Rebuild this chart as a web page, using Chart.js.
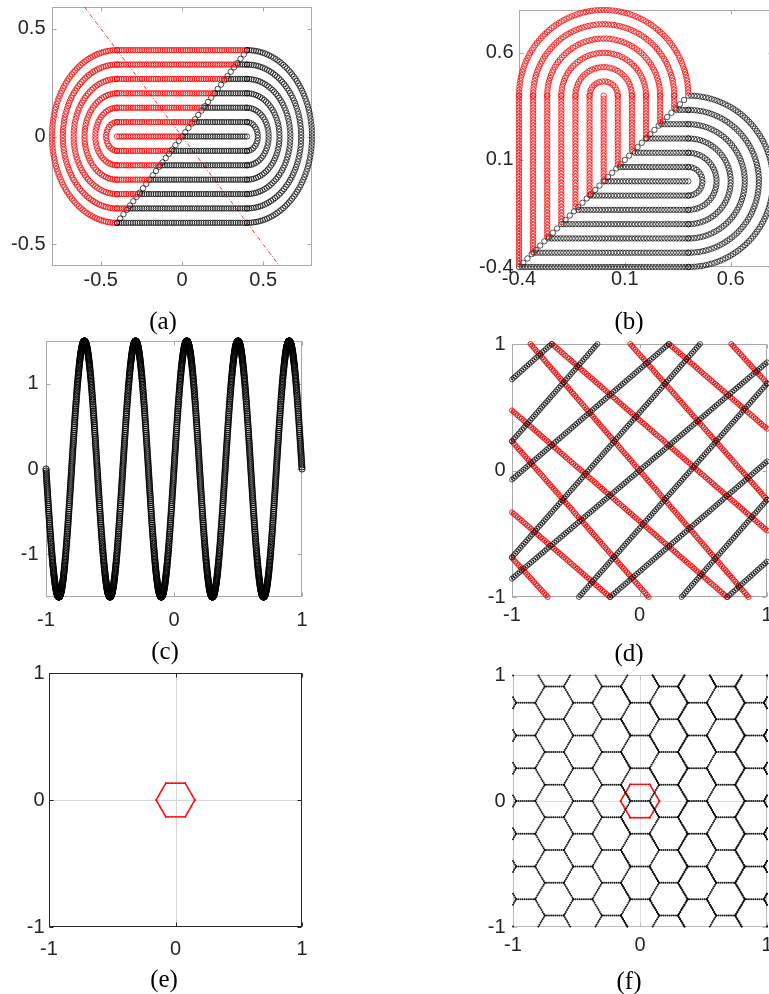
<!DOCTYPE html>
<html>
<head>
<meta charset="utf-8">
<script src="https://cdn.jsdelivr.net/npm/chart.js@4.4.1/dist/chart.umd.min.js"></script>
<style>
  body { margin: 0; background: #fff; width: 769px; height: 994px; overflow: hidden; position: relative; }
  canvas { position: absolute; }
  .cap { position: absolute; font-family: 'Liberation Serif', serif; font-size: 25px; line-height: 1; color: #000; transform: translate(-50%, -50%); white-space: nowrap; }
</style>
</head>
<body>
<script>
// (a), (b): nested stadium loops
const loopRadii = [0, 1/15, 2/15, 3/15, 4/15, 5/15, 6/15];
const loopHalfLength = 0.4;
const loopStep = 0.014;
const diagonalCount = 41;
const cutLineX = [-0.6, 0.6];

// (c): sine band
const waveAmplitude = 1.5;
const waveCycles = 5;
const waveStep = 0.001;

// (d): straight runs, [x, y] at each end
const redStart = [[0.72, 1], [0.232, 1], [-0.072, 1], [-0.686, 1], [-0.855, 1], [-1, 0.475], [-1, 0.23], [-1, -0.33], [-1, -0.69]];
const redEnd = [[1, 0.69], [1, 0.33], [1, -0.23], [1, -0.475], [0.855, -1], [0.686, -1], [0.072, -1], [-0.232, -1], [-0.72, -1]];
const blackStart = [[-1, 0.72], [-1, 0.232], [-1, -0.072], [-1, -0.686], [-1, -0.855], [-0.475, -1], [-0.23, -1], [0.33, -1], [0.69, -1]];
const blackEnd = [[-0.69, 1], [-0.33, 1], [0.23, 1], [0.475, 1], [1, 0.855], [1, 0.686], [1, 0.072], [1, -0.232], [1, -0.72]];
const runStep = 0.02;

// (e), (f): hexagons
const cellRadius = 0.15;
const centerHexRadius = 0.153;
const cellStep = 0.016;
const centerHexStep = 0.011;

// tick values
const ticksA = [-0.5, 0, 0.5];
const ticksB = [-0.4, 0.1, 0.6];
const ticksUnit = [-1, 0, 1];

const RED = 'rgb(255,0,0)';
const BLACK = 'rgba(0,0,0,0.85)';

function seg(out, x0, y0, x1, y1, step) {
  const n = Math.max(1, Math.round(Math.hypot(x1 - x0, y1 - y0) / step));
  for (let i = 0; i <= n; i++) out.push({ x: x0 + (x1 - x0) * i / n, y: y0 + (y1 - y0) * i / n });
}
function arc(out, cx, cy, r, a0, a1, step) {
  const n = Math.max(1, Math.round(r * Math.abs(a1 - a0) / step));
  for (let i = 0; i <= n; i++) {
    const t = a0 + (a1 - a0) * i / n;
    out.push({ x: cx + r * Math.cos(t), y: cy + r * Math.sin(t) });
  }
}

// loops along x (arcs at x = +-L) or along y (arcs at y = +-L)
function loops(vertical) {
  const L = loopHalfLength, out = [];
  for (const r of loopRadii) {
    const pts = [];
    if (r === 0) {
      seg(pts, -L, 0, L, 0, loopStep);
    } else {
      seg(pts, -L, r, L, r, loopStep);
      seg(pts, -L, -r, L, -r, loopStep);
      arc(pts, L, 0, r, -Math.PI / 2, Math.PI / 2, loopStep);
      arc(pts, -L, 0, r, Math.PI / 2, 3 * Math.PI / 2, loopStep);
    }
    for (const p of pts) out.push(vertical ? { x: p.y, y: p.x } : p);
  }
  return out;
}
function diagonal() {
  const out = [], L = loopHalfLength;
  for (let i = 0; i < diagonalCount; i++) {
    const v = -L + 2 * L * i / (diagonalCount - 1);
    out.push({ x: v, y: v });
  }
  return out;
}

const ring = (data, color, r, bw) => ({
  data, pointRadius: r, pointBorderWidth: bw, pointBorderColor: color,
  pointBackgroundColor: 'rgba(0,0,0,0)', pointStyle: 'circle', showLine: false, clip: false
});
const dots = (data, color, r) => ({
  data, pointRadius: r, pointBorderWidth: 0, pointBorderColor: color,
  pointBackgroundColor: color, pointStyle: 'circle', showLine: false, clip: false
});

// box, inward tick marks and optional zero lines
const framePlugin = {
  id: 'frame',
  beforeDatasetsDraw(chart, _args, o) {
    const { ctx, chartArea: a } = chart;
    const xs = chart.scales.x, ys = chart.scales.y;
    const l = Math.round(a.left) + 0.5, r = Math.round(a.right) - 0.5;
    const t = Math.round(a.top) + 0.5, b = Math.round(a.bottom) - 0.5;
    ctx.save();
    ctx.lineWidth = 1;
    if (o.zeroLines) {
      ctx.strokeStyle = o.zeroColor;
      const gx = Math.round(xs.getPixelForValue(0)) + 0.5;
      const gy = Math.round(ys.getPixelForValue(0)) + 0.5;
      ctx.beginPath();
      ctx.moveTo(gx, t); ctx.lineTo(gx, b);
      ctx.moveTo(l, gy); ctx.lineTo(r, gy);
      ctx.stroke();
    }
    ctx.strokeStyle = o.color;
    ctx.strokeRect(l, t, r - l, b - t);
    ctx.beginPath();
    xs.ticks.forEach(tk => {
      const px = Math.round(xs.getPixelForValue(tk.value)) + 0.5;
      ctx.moveTo(px, b); ctx.lineTo(px, b - 4);
      ctx.moveTo(px, t); ctx.lineTo(px, t + 4);
    });
    ys.ticks.forEach(tk => {
      const py = Math.round(ys.getPixelForValue(tk.value)) + 0.5;
      ctx.moveTo(l, py); ctx.lineTo(l + 4, py);
      ctx.moveTo(r, py); ctx.lineTo(r - 4, py);
    });
    ctx.stroke();
    ctx.restore();
  }
};

const AXIS_W = 50, AXIS_H = 40, PAD = 8;
const tickFont = { family: "'Liberation Sans', Arial, sans-serif", size: 20 };

function axis(range, ticks, pad, isX) {
  return {
    type: 'linear', min: range[0], max: range[1],
    afterBuildTicks: s => { s.ticks = ticks.map(v => ({ value: v })); },
    ticks: { padding: pad, color: '#262626', font: tickFont, maxRotation: 0, autoSkip: false, callback: v => String(v) },
    grid: { display: false, drawTicks: false },
    border: { display: false },
    afterFit: s => {
      if (isX) s.height = AXIS_H; else s.width = AXIS_W;
      s.paddingLeft = s.paddingRight = s.paddingTop = s.paddingBottom = 0;
    }
  };
}

function panel(rect, xr, yr, xt, yt, gaps, datasets, frame) {
  const [L, T, W, H] = rect;
  const c = document.createElement('canvas');
  c.width = AXIS_W + W + PAD;
  c.height = PAD + H + AXIS_H;
  c.style.left = (L - AXIS_W) + 'px';
  c.style.top = (T - PAD) + 'px';
  document.body.appendChild(c);
  new Chart(c, {
    type: 'scatter',
    data: { datasets },
    options: {
      responsive: false, animation: false, devicePixelRatio: 1, events: [],
      layout: { padding: { top: PAD, right: PAD, left: 0, bottom: 0 } },
      plugins: { legend: { display: false }, tooltip: { enabled: false }, frame },
      scales: { x: axis(xr, xt, gaps[0], true), y: axis(yr, yt, gaps[1], false) }
    },
    plugins: [framePlugin]
  });
}

function caption(text, x, y) {
  const d = document.createElement('div');
  d.className = 'cap';
  d.textContent = text;
  d.style.left = x + 'px';
  d.style.top = y + 'px';
  document.body.appendChild(d);
}

const boxGray = { color: '#a8a8a8' };

// (a)
{
  const pts = loops(false);
  const red = pts.filter(p => p.y > p.x + 1e-9), black = pts.filter(p => p.y <= p.x + 1e-9);
  const cut = {
    type: 'line', data: cutLineX.map(x => ({ x, y: -x })), borderColor: RED, borderWidth: 0.8,
    borderDash: [4, 2, 1, 2], pointRadius: 0, showLine: true, clip: false
  };
  panel([52, 7, 260, 259], [-0.8, 0.8], [-0.6, 0.6], ticksA, ticksA, [2.2, 6.5],
    [ring(red, RED, 2.7, 0.8), ring(black, BLACK, 2.7, 0.8), ring(diagonal(), BLACK, 2.7, 0.8), cut], boxGray);
}

// (b)
{
  const red = loops(true).filter(p => p.y > p.x + 1e-9);
  const black = loops(false).filter(p => p.y < p.x - 1e-9);
  panel([519, 10, 254, 257], [-0.4, 0.8], [-0.4, 0.8], ticksB, ticksB, [0.2, 5.5],
    [ring(red, RED, 2.7, 0.8), ring(black, BLACK, 2.7, 0.8), ring(diagonal(), BLACK, 2.7, 0.8)], boxGray);
}

// (c)
{
  const wave = [];
  const n = Math.round(2 / waveStep);
  for (let i = 0; i <= n; i++) {
    const x = -1 + i * waveStep;
    wave.push({ x, y: waveAmplitude * Math.sin(waveCycles * Math.PI * x) });
  }
  panel([46, 341, 256, 256], [-1, 1], [-1.5, 1.5], ticksUnit, ticksUnit, [11.2, 7.5],
    [ring(wave, 'rgba(0,0,0,0.9)', 3.1, 1)], boxGray);
}

// (d)
{
  const runs = (starts, ends) => {
    const out = [];
    starts.forEach((s, i) => seg(out, s[0], s[1], ends[i][0], ends[i][1], runStep));
    return out;
  };
  const red = runs(redStart, redEnd), black = runs(blackStart, blackEnd);
  panel([512, 344, 255, 253], [-1, 1], [-1, 1], ticksUnit, ticksUnit, [6.2, 6.5],
    [ring(black, 'rgba(0,0,0,0.75)', 2.5, 0.9), ring(red, RED, 2.5, 0.9),
     dots(black.concat(red), 'rgba(0,0,0,0.85)', 0.8)], boxGray);
}

function hexagon(R, step) {
  const out = [];
  for (let k = 0; k < 6; k++) {
    const a = k * Math.PI / 3, b = (k + 1) * Math.PI / 3;
    seg(out, R * Math.cos(a), R * Math.sin(a), R * Math.cos(b), R * Math.sin(b), step);
  }
  return out;
}
function honeycomb(R, step) {
  const h = R * Math.sqrt(3), seen = new Set(), out = [];
  for (let i = -6; i <= 6; i++) {
    for (let j = -6; j <= 6; j++) {
      const cx = 1.5 * R * i, cy = h * j + (i % 2 === 0 ? h / 2 : 0);
      for (let k = 0; k < 6; k++) {
        const a = k * Math.PI / 3, b = (k + 1) * Math.PI / 3;
        const x0 = cx + R * Math.cos(a), y0 = cy + R * Math.sin(a);
        const x1 = cx + R * Math.cos(b), y1 = cy + R * Math.sin(b);
        const key = Math.round((x0 + x1) * 500) + ',' + Math.round((y0 + y1) * 500);
        if (seen.has(key)) continue;
        seen.add(key);
        const tmp = [];
        seg(tmp, x0, y0, x1, y1, step);
        for (const p of tmp) if (Math.abs(p.x) <= 1.004 && Math.abs(p.y) <= 1.004) out.push(p);
      }
    }
  }
  return out;
}

// (e)
panel([49, 673, 253, 254], [-1, 1], [-1, 1], ticksUnit, ticksUnit, [10.2, 4.5],
  [dots(hexagon(centerHexRadius, centerHexStep), RED, 0.9)],
  { color: '#262626', zeroLines: true, zeroColor: '#d8d8d8' });

// (f)
panel([513, 675, 254, 252], [-1, 1], [-1, 1], ticksUnit, ticksUnit, [6.2, 7.5],
  [dots(honeycomb(cellRadius, cellStep), 'rgba(0,0,0,0.9)', 1), dots(hexagon(centerHexRadius, centerHexStep), RED, 0.9)],
  { color: '#bdbdbd', zeroLines: true, zeroColor: '#e0e0e0' });

caption('(a)', 163, 320);
caption('(b)', 629, 320);
caption('(c)', 165, 650);
caption('(d)', 629, 652);
caption('(e)', 164, 978);
caption('(f)', 629, 980);
</script>
</body>
</html>
